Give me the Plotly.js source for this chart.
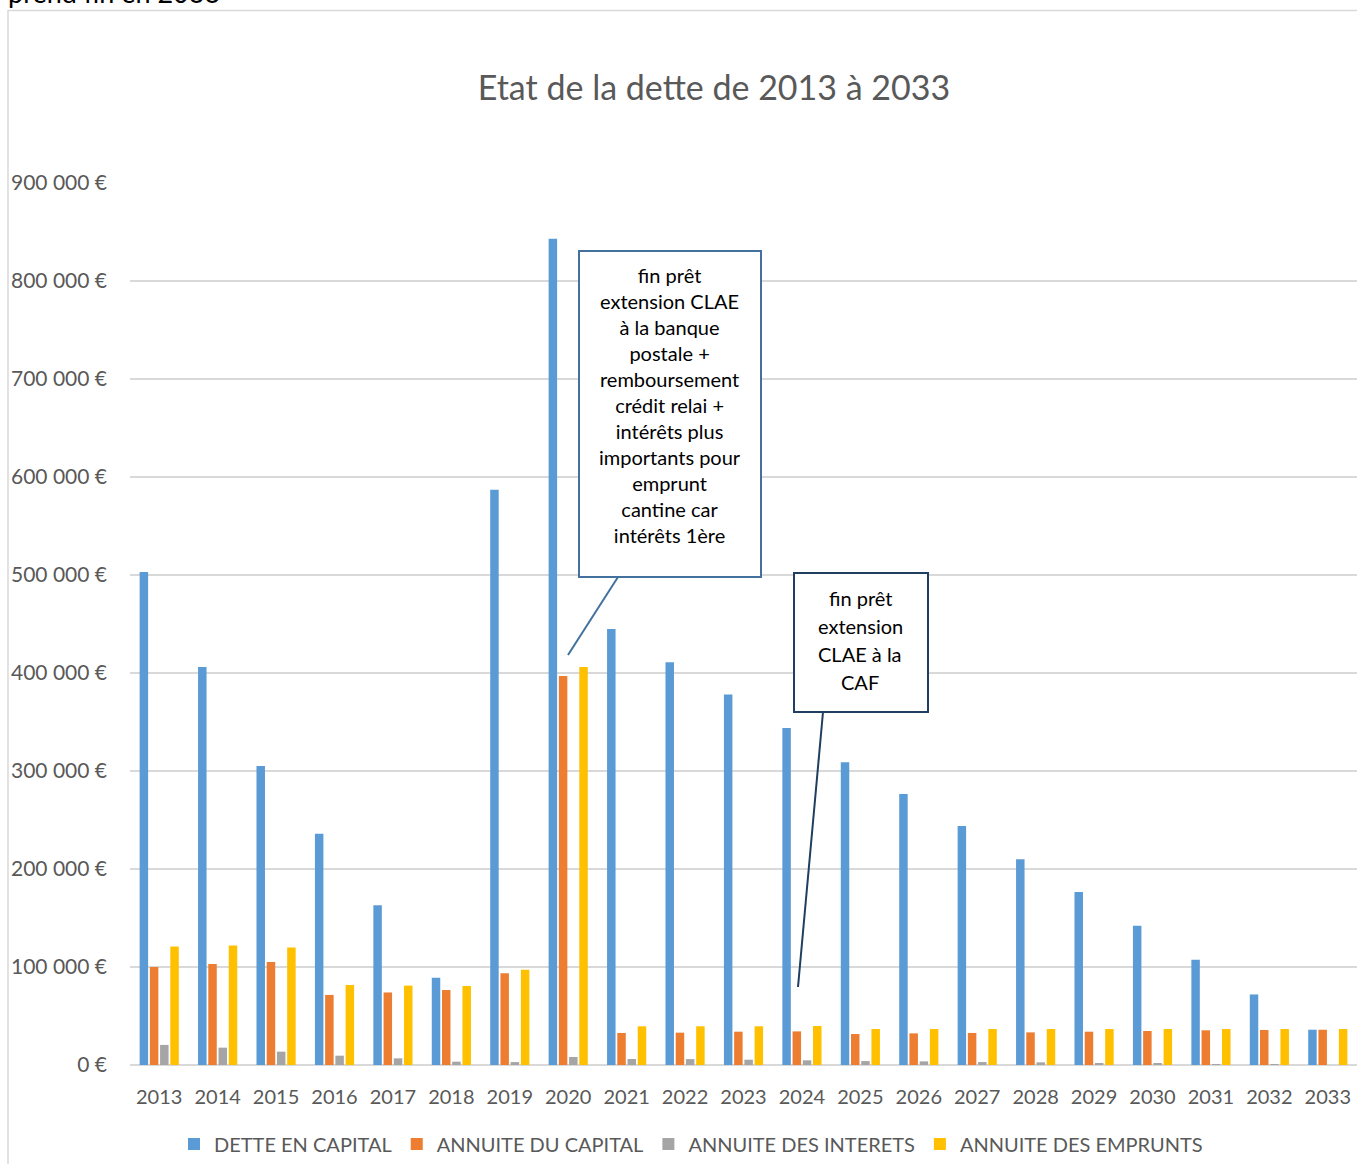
<!DOCTYPE html>
<html>
<head>
<meta charset="utf-8">
<script src="https://cdn.plot.ly/plotly-3.0.1.min.js"></script>
<style>
html, body { margin: 0; padding: 0; overflow: hidden; background: #fff; }
#chart { width: 1357px; height: 1164px; }
</style>
</head>
<body>
<div id="chart"></div>
<script>
// ---- Data ----
const years = ['2013','2014','2015','2016','2017','2018','2019','2020','2021','2022','2023',
               '2024','2025','2026','2027','2028','2029','2030','2031','2032','2033'];
const detteCapital = [503000, 406000, 305000, 236000, 163000, 89000, 587000, 843000, 445000, 411000, 378000,
                      344000, 309000, 276500, 244000, 210000, 176500, 142000, 107500, 72000, 36000];
const annuiteCapital = [100000, 103000, 105000, 71500, 74000, 76500, 93500, 397000, 32700, 33000, 34000,
                        34300, 31600, 32300, 32700, 33300, 34000, 34700, 35400, 35700, 36000];
const annuiteInterets = [20500, 17700, 13600, 9500, 6800, 3400, 3000, 8200, 6100, 6000, 5400,
                         4800, 4000, 3700, 3000, 2700, 2000, 1700, 1000, 400, 0];
const annuiteEmprunts = [121000, 122000, 120000, 81600, 81000, 80600, 97300, 406000, 39500, 39500, 39500,
                         39800, 36700, 36700, 36700, 36700, 36700, 36700, 36700, 36700, 36700];
const seriesNames = ['DETTE EN CAPITAL', 'ANNUITE DU CAPITAL', 'ANNUITE DES INTERETS', 'ANNUITE DES EMPRUNTS'];
const chartTitle = 'Etat de la dette de 2013 à 2033';
const note1Lines = ['fin prêt', 'extension CLAE', 'à la banque', 'postale +', 'remboursement', 'crédit relai +',
                    'intérêts plus', 'importants pour', 'emprunt', 'cantine car', 'intérêts 1ère'];
const note2Lines = ['fin prêt', 'extension', 'CLAE à la', 'CAF'];
const topText = 'prend fin en 2033';

// ---- Layout helpers (pixel -> paper) ----
const W = 1357, H = 1164;
const M = {l: 130, r: 0, t: 183, b: 99};
const PW = W - M.l - M.r, PH = H - M.t - M.b;
const px = x => (x - M.l) / PW;
const py = y => (H - M.b - y) / PH;

const FONT = 'Lato, "Open Sans", sans-serif';
const colors = ['#5B9BD5', '#ED7D31', '#A5A5A5', '#FFC000'];
const values = [detteCapital, annuiteCapital, annuiteInterets, annuiteEmprunts];

const traces = values.map((v, i) => ({
  type: 'bar',
  name: seriesNames[i],
  x: years,
  y: v,
  marker: {color: colors[i]},
  hoverinfo: 'x+y+name'
}));

const noteFont = {family: FONT, size: 20, color: '#000000'};
const annotations = [
  {text: note1Lines.join('<br>'), xref: 'paper', yref: 'paper', x: px(670), y: py(405),
   xanchor: 'center', yanchor: 'middle', showarrow: false, align: 'center', font: noteFont},
  {text: topText, xref: 'paper', yref: 'paper', x: px(6), y: py(-7), xanchor: 'left', yanchor: 'middle',
   showarrow: false, align: 'left', font: {family: FONT, size: 27, color: '#000000'}}
];
note2Lines.forEach((t, i) => {
  annotations.push({text: t, xref: 'paper', yref: 'paper', x: px(860), y: py(598 + 28 * i),
    xanchor: 'center', yanchor: 'middle', showarrow: false, align: 'center', font: noteFont});
});

const layout = {
  width: W, height: H,
  margin: M,
  paper_bgcolor: '#fff',
  plot_bgcolor: '#fff',
  separators: ', ',
  barmode: 'group',
  bargap: 0.30,
  bargroupgap: 0.17,
  font: {family: FONT, color: '#595959', size: 20},
  title: {
    text: chartTitle,
    font: {family: FONT, size: 34, color: '#595959'},
    x: px(714), xref: 'paper', xanchor: 'center',
    y: 1 - 88 / H, yref: 'container', yanchor: 'middle'
  },
  xaxis: {
    type: 'category',
    showgrid: false,
    showline: false,
    zeroline: false,
    ticks: '',
    ticklabelstandoff: 18,
    tickfont: {family: FONT, size: 20, color: '#595959'},
    fixedrange: true
  },
  yaxis: {
    range: [0, 900000],
    dtick: 100000,
    tickformat: ',.0f',
    ticksuffix: ' €',
    showgrid: true,
    gridcolor: '#D9D9D9',
    gridwidth: 1.5,
    zeroline: true,
    zerolinecolor: '#D9D9D9',
    zerolinewidth: 2,
    showline: false,
    ticks: '',
    ticklabelstandoff: 22,
    tickfont: {family: FONT, size: 21, color: '#595959'},
    fixedrange: true
  },
  showlegend: true,
  legend: {
    orientation: 'h',
    x: px(691), xanchor: 'center',
    y: py(1144), yanchor: 'middle',
    font: {family: FONT, size: 20, color: '#595959'},
    traceorder: 'normal',
    itemclick: false
  },
  shapes: [
    // outer chart frame
    {type: 'line', xref: 'paper', yref: 'paper', x0: px(8), x1: px(8), y0: py(10), y1: py(1170),
     line: {color: '#D9D9D9', width: 1.5}},
    {type: 'line', xref: 'paper', yref: 'paper', x0: px(8), x1: px(1360), y0: py(10.5), y1: py(10.5),
     line: {color: '#D9D9D9', width: 1.5}},
    // callout 1
    {type: 'line', xref: 'paper', yref: 'paper', x0: px(618), y0: py(577), x1: px(568), y1: py(655),
     line: {color: '#41719C', width: 2}},
    {type: 'rect', xref: 'paper', yref: 'paper', x0: px(579), x1: px(761), y0: py(577), y1: py(251),
     fillcolor: '#FFFFFF', line: {color: '#41719C', width: 2}},
    // callout 2
    {type: 'line', xref: 'paper', yref: 'paper', x0: px(823), y0: py(712), x1: px(798), y1: py(987),
     line: {color: '#203F60', width: 2}},
    {type: 'rect', xref: 'paper', yref: 'paper', x0: px(794), x1: px(928), y0: py(712), y1: py(573),
     fillcolor: '#FFFFFF', line: {color: '#203F60', width: 2}}
  ],
  annotations: annotations
};

Plotly.newPlot('chart', traces, layout, {displayModeBar: false, staticPlot: false, responsive: false});
</script>
</body>
</html>
